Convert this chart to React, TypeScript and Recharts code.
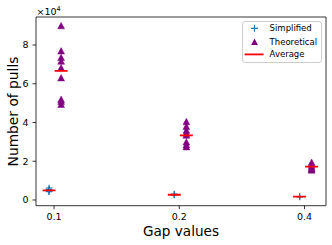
import React from 'react';
import { ScatterChart, Scatter, XAxis, YAxis, ReferenceArea, Legend } from 'recharts';

// ---- data ----
const gapValues = [0.1, 0.2, 0.4];
const xTicks = [0.1, 0.2, 0.4];
const yTicks = [0, 20000, 40000, 60000, 80000];

const simplifiedGap01 = [6200, 5500, 5000, 4600, 4300];
const simplifiedGap02 = [3100, 2800, 2600];
const simplifiedGap04 = [1800, 1700, 1600];

const theoreticalGap01 = [90000, 77000, 73600, 71700, 68300, 63100, 52000, 51000, 49400];
const theoreticalGap02 = [40500, 38000, 36000, 34500, 33500, 30000, 28500, 27500];
const theoreticalGap04 = [19500, 18500, 17500, 16500, 16000, 15500];

const simplifiedAverage = [5000, 2700, 1700];
const theoreticalAverage = [66600, 33400, 17200];

// ---- layout / style constants ----
const SIMP_SHIFT = 0.973;
const THEO_SHIFT = 1.04;
const X_DOMAIN: [number, number] = [0.0905, 0.4505];
const Y_DOMAIN: [number, number] = [-2940, 94450];
const FONT = '"DejaVu Sans", sans-serif';
const BLUE = '#1f77b4';
const PURPLE = '#800080';
const RED = '#ff0000';

const simplifiedByGap = [simplifiedGap01, simplifiedGap02, simplifiedGap04];
const theoreticalByGap = [theoreticalGap01, theoreticalGap02, theoreticalGap04];

const simplifiedData = gapValues.flatMap((g, i) =>
  simplifiedByGap[i].map((v) => ({ x: g * SIMP_SHIFT, y: v }))
);
const theoreticalData = gapValues.flatMap((g, i) =>
  theoreticalByGap[i].map((v) => ({ x: g * THEO_SHIFT, y: v }))
);
const averageData = [
  ...gapValues.map((g, i) => ({ x: g * SIMP_SHIFT, y: simplifiedAverage[i] })),
  ...gapValues.map((g, i) => ({ x: g * THEO_SHIFT, y: theoreticalAverage[i] })),
];

const PlusShape = (props: any) => {
  const { cx, cy } = props;
  if (cx == null || cy == null) return <g />;
  return (
    <path
      d={`M${cx - 3.3},${cy}H${cx + 3.3}M${cx},${cy - 3.3}V${cy + 3.3}`}
      stroke={BLUE}
      strokeWidth={1.2}
      fill="none"
    />
  );
};

const TriangleShape = (props: any) => {
  const { cx, cy } = props;
  if (cx == null || cy == null) return <g />;
  return (
    <path
      d={`M${cx},${cy - 3.2}L${cx + 3.4},${cy + 3.2}L${cx - 3.4},${cy + 3.2}Z`}
      fill={PURPLE}
      stroke={PURPLE}
      strokeWidth={0.5}
    />
  );
};

const AvgShape = (props: any) => {
  const { cx, cy } = props;
  if (cx == null || cy == null) return <g />;
  return <line x1={cx - 6.5} x2={cx + 6.5} y1={cy} y2={cy} stroke={RED} strokeWidth={1.8} />;
};

const LegendBox = () => (
  <svg width={80} height={42} style={{ display: 'block', overflow: 'visible' }}>
    <rect x={0.5} y={0.5} width={79} height={41} rx={2.5} fill="rgba(255,255,255,0.8)" stroke="#cccccc" strokeWidth={1} />
    <path d="M9,7.3H16M12.5,3.8V10.8" stroke={BLUE} strokeWidth={1.2} />
    <path d="M12.5,17.5L15.9,23.9L9.1,23.9Z" fill={PURPLE} />
    <line x1={2.6} x2={21.6} y1={33.4} y2={33.4} stroke={RED} strokeWidth={1.8} />
    <text x={27.6} y={7.3} dominantBaseline="central" fontFamily={FONT} fontSize={8.5} fill="#000">Simplified</text>
    <text x={27.6} y={20.5} dominantBaseline="central" fontFamily={FONT} fontSize={8.5} fill="#000">Theoretical</text>
    <text x={27.6} y={33.4} dominantBaseline="central" fontFamily={FONT} fontSize={8.5} fill="#000">Average</text>
  </svg>
);

export default function App() {
  return (
    <div style={{ position: 'absolute', left: 0, top: 0, width: 332, height: 245, background: '#fff' }}>
      <ScatterChart width={332} height={245} margin={{ top: 17, right: 6, bottom: 0, left: 0 }}>
        <XAxis
          dataKey="x"
          type="number"
          scale="log"
          domain={X_DOMAIN}
          allowDataOverflow
          ticks={xTicks}
          height={39.3}
          axisLine={false}
          tickLine={{ stroke: '#000', strokeWidth: 0.8 }}
          tickSize={3.5}
          tickMargin={4}
          tick={{ fill: '#000', fontSize: 9.5, fontFamily: FONT }}
          tickFormatter={(v: number) => String(v)}
        />
        <YAxis
          dataKey="y"
          type="number"
          domain={Y_DOMAIN}
          allowDataOverflow
          ticks={yTicks}
          width={36}
          axisLine={false}
          tickLine={{ stroke: '#000', strokeWidth: 0.8 }}
          tickSize={3.5}
          tickMargin={4}
          tick={{ fill: '#000', fontSize: 9.5, fontFamily: FONT }}
          tickFormatter={(v: number) => String(v / 10000)}
        />
        <ReferenceArea
          x1={X_DOMAIN[0]}
          x2={X_DOMAIN[1]}
          y1={Y_DOMAIN[0]}
          y2={Y_DOMAIN[1]}
          fill="none"
          fillOpacity={0}
          stroke="#000"
          strokeWidth={0.8}
          ifOverflow="visible"
        />
        <Scatter name="Simplified" data={simplifiedData} shape={<PlusShape />} isAnimationActive={false} />
        <Scatter name="Theoretical" data={theoreticalData} shape={<TriangleShape />} isAnimationActive={false} />
        <Scatter name="Average" data={averageData} shape={<AvgShape />} isAnimationActive={false} />
        <Legend
          layout="horizontal"
          verticalAlign="middle"
          align="center"
          content={() => <LegendBox />}
          wrapperStyle={{ left: 241.5, top: 20.8, width: 80, height: 42 }}
        />
      </ScatterChart>
      <svg
        width={332}
        height={245}
        style={{ position: 'absolute', left: 0, top: 0, pointerEvents: 'none' }}
      >
        <text x={36.5} y={15} fontFamily={FONT} fontSize={9.5} fill="#000">
          ×10<tspan dy={-4} fontSize={6.5}>4</tspan>
        </text>
        <text
          x={13}
          y={111.5}
          transform="rotate(-90 13 111.5)"
          textAnchor="middle"
          dominantBaseline="central"
          fontFamily={FONT}
          fontSize={13.8}
          fill="#000"
        >
          Number of pulls
        </text>
        <text x={181} y={235.5} textAnchor="middle" fontFamily={FONT} fontSize={13.6} fill="#000">
          Gap values
        </text>
      </svg>
    </div>
  );
}
